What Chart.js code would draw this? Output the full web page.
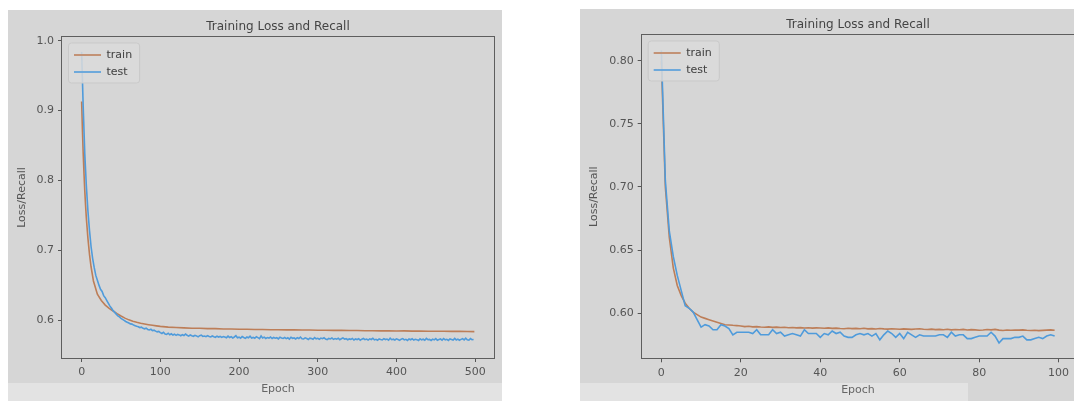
<!DOCTYPE html>
<html>
<head>
<meta charset="utf-8">
<script src="https://cdn.jsdelivr.net/npm/chart.js@4.4.1/dist/chart.umd.min.js"></script>
<style>
html, body { margin: 0; padding: 0; background: #fff; overflow: hidden; width: 1074px; height: 401px; }
.panel { position: absolute; background: #d6d6d6; }
.strip { position: absolute; background: #e3e3e3; }
.holder { position: absolute; }
</style>
</head>
<body>
<div class="panel" style="left:8px;top:10px;width:494px;height:373px"></div>
<div class="strip" style="left:8px;top:383px;width:494px;height:18px"></div>
<div class="panel" style="left:580px;top:9px;width:494px;height:392px"></div>
<div class="strip" style="left:580px;top:383px;width:388px;height:18px"></div>

<div class="holder" style="left:8px;top:10px"><canvas id="lossLong" width="494" height="391"></canvas></div>
<div class="holder" style="left:580px;top:9px"><canvas id="lossShort" width="496" height="392"></canvas></div>

<script>
// ---- left panel: 500 epochs ----
const leftTrainEpochs = [0, 1, 2, 3, 4, 5, 6, 8, 10, 12, 15, 20, 25, 30, 35, 40, 45, 50, 55, 60, 65, 70, 75, 80, 85, 90, 95, 100,
    110, 120, 130, 140, 150, 160, 170, 180, 190, 200, 210, 220, 230, 240, 250, 260, 270, 280, 290, 300,
    310, 320, 330, 340, 350, 360, 370, 380, 390, 400, 410, 420, 430, 440, 450, 460, 470, 480, 490, 499];
const leftTrainLoss = [0.913, 0.872, 0.838, 0.810, 0.785, 0.764, 0.746, 0.717, 0.694, 0.676, 0.656, 0.637, 0.628, 0.6215,
    0.6168, 0.613, 0.6092, 0.6058, 0.6028, 0.6003, 0.5983, 0.5968, 0.5955, 0.5944, 0.5934, 0.5925, 0.5917, 0.5910,
    0.5899, 0.5893, 0.5889, 0.5884, 0.5882, 0.5878, 0.5877, 0.5873, 0.5872, 0.5869,
    0.5868, 0.5865, 0.5866, 0.5862, 0.5862, 0.5859, 0.5860, 0.5857, 0.5857, 0.5855,
    0.5854, 0.5853, 0.5853, 0.5850, 0.5851, 0.5848, 0.5848, 0.5846, 0.5847, 0.5844,
    0.5845, 0.5842, 0.5843, 0.5840, 0.5841, 0.5839, 0.5838, 0.5838, 0.5836, 0.5835];

// test curve read every 2nd epoch (0, 2, ... 498)
const leftTestEvery = 2;
const leftTestLoss = [
    0.984, 0.905, 0.838, 0.792, 0.756, 0.728, 0.705, 0.688, 0.675, 0.664,
    0.657, 0.650, 0.644, 0.641, 0.635, 0.632, 0.628, 0.624, 0.620, 0.617,
    0.6135, 0.611, 0.6085, 0.606, 0.6045, 0.6025, 0.601, 0.5995, 0.598, 0.5968,
    0.5958, 0.5945, 0.5942, 0.5928, 0.592, 0.5912, 0.5905, 0.5893, 0.5898, 0.5882,
    0.5875, 0.5884, 0.5866, 0.5858, 0.5868, 0.5848, 0.5855, 0.5842, 0.5832, 0.5838,
    0.582,
    0.5808, 0.5826, 0.5801, 0.5795, 0.5812, 0.5790, 0.5804, 0.5786, 0.5798, 0.5781,
    0.5795, 0.5788, 0.5776, 0.5791, 0.5779, 0.5800, 0.5783, 0.5770, 0.5786, 0.5775,
    0.5768, 0.5782, 0.5773, 0.5760, 0.5776, 0.5785, 0.5766, 0.5771, 0.5762, 0.5778,
    0.5765, 0.5758, 0.5772, 0.5761, 0.5754, 0.5769, 0.5757, 0.5766, 0.5752, 0.5763,
    0.5759, 0.5748, 0.5770, 0.5751, 0.5762, 0.5744, 0.5758, 0.5776, 0.5747, 0.5755,
    0.5741, 0.5764, 0.5750, 0.5738, 0.5757, 0.5746, 0.5768, 0.5743, 0.5752, 0.5739,
    0.5761, 0.5748, 0.5735, 0.5772, 0.5744, 0.5756, 0.5737, 0.5749, 0.5742, 0.5758,
    0.5736, 0.5751, 0.5740, 0.5747, 0.5731, 0.5755, 0.5743, 0.5738, 0.5750, 0.5734,
    0.5746, 0.5728, 0.5753, 0.5739, 0.5744, 0.5730, 0.5748, 0.5736, 0.5757, 0.5733,
    0.5729, 0.5745, 0.5735, 0.5722, 0.5741, 0.5737, 0.5726, 0.5750, 0.5731, 0.5739,
    0.5725, 0.5742, 0.5733, 0.5746, 0.5728, 0.5720, 0.5738, 0.5730, 0.5744, 0.5724,
    0.5735, 0.5727, 0.5740, 0.5719, 0.5732, 0.5745, 0.5726, 0.5734, 0.5718, 0.5730,
    0.5724, 0.5737, 0.5715, 0.5729, 0.5721, 0.5733, 0.5712, 0.5727, 0.5736, 0.5720,
    0.5728, 0.5714, 0.5731, 0.5722, 0.5739, 0.5716, 0.5725, 0.5711, 0.5730, 0.5723,
    0.5717, 0.5734, 0.5721, 0.5728, 0.5713, 0.5742, 0.5719, 0.5726, 0.5715, 0.5731,
    0.5722, 0.5710, 0.5727, 0.5735, 0.5716, 0.5724, 0.5709, 0.5729, 0.5718, 0.5733,
    0.5714, 0.5725, 0.5720, 0.5707, 0.5731, 0.5717, 0.5726, 0.5712, 0.5738, 0.5719,
    0.5723, 0.5708, 0.5727, 0.5716, 0.5734, 0.5711, 0.5721, 0.5729, 0.5713, 0.5736,
    0.5718, 0.5725, 0.5709, 0.5730, 0.5722, 0.5714, 0.5737, 0.5716, 0.5728, 0.5711,
    0.5724, 0.5733, 0.5715, 0.5741, 0.5718, 0.5712, 0.5735, 0.5719, 0.5722];
const leftXTicks = [0, 100, 200, 300, 400, 500];
const leftYTicks = [0.6, 0.7, 0.8, 0.9, 1.0];

// ---- right panel: 100 epochs ----
const rightTrainLoss = [
    0.800, 0.700, 0.660, 0.636, 0.622, 0.614, 0.608, 0.604, 0.601, 0.599,
    0.597, 0.596, 0.595, 0.594, 0.593, 0.592, 0.591, 0.5908, 0.5905, 0.5903,
    0.5900, 0.5895, 0.5898, 0.5893, 0.5895, 0.5892, 0.5890, 0.5893, 0.5889, 0.5891,
    0.5888, 0.5890, 0.5886, 0.5888, 0.5885, 0.5887, 0.5884, 0.5886, 0.5883, 0.5885,
    0.5884, 0.5882, 0.5885, 0.5881, 0.5883, 0.5880, 0.5878, 0.5882, 0.5879, 0.5881,
    0.5878, 0.5882, 0.5877, 0.5879, 0.5876, 0.5880, 0.5877, 0.5875, 0.5878, 0.5876,
    0.5874, 0.5877, 0.5875, 0.5873, 0.5876, 0.5878, 0.5874, 0.5872, 0.5875, 0.5871,
    0.5873, 0.5870, 0.5874, 0.5869, 0.5872, 0.5870, 0.5873, 0.5868, 0.5871, 0.5869,
    0.5866, 0.5868, 0.5872, 0.5869, 0.5873, 0.5867, 0.5864, 0.5868, 0.5866, 0.5868,
    0.5867, 0.5869, 0.5866, 0.5864, 0.5866, 0.5863, 0.5865, 0.5867, 0.5869, 0.5866];
const rightTestLoss = [
    0.808, 0.705, 0.665, 0.645, 0.630, 0.618, 0.606, 0.604, 0.601, 0.595,
    0.589, 0.591, 0.590, 0.587, 0.587, 0.591, 0.590, 0.588, 0.583, 0.585,
    0.585, 0.585, 0.585, 0.584, 0.587, 0.583, 0.583, 0.583, 0.587, 0.584,
    0.585, 0.582, 0.583, 0.584, 0.583, 0.582, 0.587, 0.584, 0.584, 0.584,
    0.581, 0.584, 0.583, 0.586, 0.584, 0.585, 0.582, 0.581, 0.581, 0.583,
    0.584, 0.583, 0.584, 0.582, 0.584, 0.579, 0.583, 0.586, 0.584, 0.581,
    0.584, 0.580, 0.585, 0.583, 0.581, 0.583, 0.582, 0.582, 0.582, 0.582,
    0.583, 0.583, 0.581, 0.585, 0.582, 0.583, 0.583, 0.580, 0.580, 0.581,
    0.582, 0.582, 0.582, 0.585, 0.582, 0.5765, 0.580, 0.580, 0.580, 0.581,
    0.581, 0.582, 0.579, 0.579, 0.580, 0.581, 0.580, 0.582, 0.583, 0.582];
const rightXTicks = [0, 20, 40, 60, 80, 100];
const rightYTicks = [0.60, 0.65, 0.70, 0.75, 0.80];

const FONT = "'DejaVu Sans', sans-serif";
const TRAIN_COLOR = '#bd7e58';
const TEST_COLOR = '#4f9bdb';

Chart.defaults.font.family = FONT;

// axes frame + matplotlib style legend box drawn over the lines
const framePlugin = {
    id: 'frameAndLegend',
    afterLayout(chart) {
        // legend sits inside the plot, near its top-left corner
        const lg = chart.legend;
        const a = chart.chartArea;
        lg.left = a.left + 6;
        lg.right = a.right;
        lg.top = a.top + 6.5;
        lg.bottom = a.bottom;
    },
    afterDatasetsDraw(chart) {
        const ctx = chart.ctx;
        const a = chart.chartArea;
        ctx.save();
        ctx.strokeStyle = '#5e5e5e';
        ctx.lineWidth = 1;
        ctx.strokeRect(Math.round(a.left) - 0.5, Math.round(a.top) - 0.5, Math.round(a.right - a.left) + 1, Math.round(a.bottom - a.top) + 1);

        const lg = chart.legend;
        ctx.font = '11px ' + FONT;
        const tw = Math.max(...lg.legendItems.map(it => ctx.measureText(it.text).width));
        const w = 5 + 27 + 5.5 + tw + 8;
        const h = 40;
        ctx.beginPath();
        ctx.roundRect(lg.left + 0.5, lg.top - 0.5, w, h, 3);
        ctx.fillStyle = 'rgba(218,218,218,0.85)';
        ctx.fill();
        ctx.strokeStyle = '#c9c9c9';
        ctx.stroke();
        ctx.restore();
        lg.draw();
    }
};

function drawLossChart(canvasId, p) {
    const trainPts = p.trainX.map((x, i) => ({x: x, y: p.train[i]}));
    const testPts = p.testX.map((x, i) => ({x: x, y: p.test[i]}));

    const config = {
        type: 'line',
        data: {
            datasets: [
                {label: 'train', data: trainPts, borderColor: TRAIN_COLOR, backgroundColor: TRAIN_COLOR,
                    borderWidth: 1.6, pointRadius: 0, tension: 0, order: 1},
                {label: 'test', data: testPts, borderColor: TEST_COLOR, backgroundColor: TEST_COLOR,
                    borderWidth: 1.6, pointRadius: 0, tension: 0, order: 0},
            ]
        },
        options: {
            responsive: false,
            animation: false,
            devicePixelRatio: 1,
            layout: {padding: {left: 0, top: 0, right: p.padRight, bottom: 0}},
            plugins: {
                title: {
                    display: true, text: 'Training Loss and Recall', fullSize: false,
                    color: '#444', font: {size: 12, weight: 'normal'},
                    padding: {top: p.titleTop, bottom: p.titleBottom}
                },
                legend: {
                    position: 'chartArea', align: 'start',
                    labels: {
                        usePointStyle: true, pointStyle: 'line', pointStyleWidth: 27,
                        padding: 6, color: '#444', font: {size: 11},
                        sort: (a, b) => a.datasetIndex - b.datasetIndex
                    }
                },
                tooltip: {enabled: false},
            },
            scales: {
                x: {
                    type: 'linear', min: p.xMin, max: p.xMax,
                    afterFit: (s) => { s.height = p.xAxisHeight; },
                    afterBuildTicks: (s) => { s.ticks = p.xTicks.map(v => ({value: v})); },
                    ticks: {color: '#555', font: {size: 11}, padding: 4, maxRotation: 0,
                        callback: (v) => String(v)},
                    grid: {display: true, drawOnChartArea: false, drawTicks: true, tickLength: 4, tickColor: '#555'},
                    border: {display: false},
                    title: {display: true, text: 'Epoch', color: '#666', font: {size: 11},
                        padding: {top: 0, bottom: p.xTitleBottom}}
                },
                y: {
                    type: 'linear', min: p.yMin, max: p.yMax,
                    afterFit: (s) => { s.width = p.yAxisWidth; },
                    afterBuildTicks: (s) => { s.ticks = p.yTicks.map(v => ({value: v})); },
                    ticks: {color: '#555', font: {size: 11}, padding: 4,
                        callback: (v) => Number(v).toFixed(p.yDigits)},
                    grid: {display: true, drawOnChartArea: false, drawTicks: true, tickLength: 4, tickColor: '#555'},
                    border: {display: false},
                    title: {display: true, text: 'Loss/Recall', color: '#555', font: {size: 11},
                        padding: {top: 8, bottom: 0}}
                }
            }
        },
        plugins: [framePlugin]
    };

    return new Chart(document.getElementById(canvasId).getContext('2d'), config);
}

drawLossChart('lossLong', {
    trainX: leftTrainEpochs, train: leftTrainLoss,
    testX: leftTestLoss.map((v, i) => i * leftTestEvery), test: leftTestLoss,
    xTicks: leftXTicks, yTicks: leftYTicks, yDigits: 1,
    xMin: -24.95, xMax: 523.95, yMin: 0.5457, yMax: 1.0053,
    padRight: 8, titleTop: 10, titleBottom: 2.6, xAxisHeight: 43, yAxisWidth: 54, xTitleBottom: 5.6
});

drawLossChart('lossShort', {
    trainX: rightTrainLoss.map((v, i) => i), train: rightTrainLoss,
    testX: rightTestLoss.map((v, i) => i), test: rightTestLoss,
    xTicks: rightXTicks, yTicks: rightYTicks, yDigits: 2,
    xMin: -4.95, xMax: 103.95, yMin: 0.5644, yMax: 0.8203,
    padRight: 1.7, titleTop: 8.6, titleBottom: 3, xAxisHeight: 42.7, yAxisWidth: 61.7, xTitleBottom: 4.3
});
</script>
</body>
</html>
